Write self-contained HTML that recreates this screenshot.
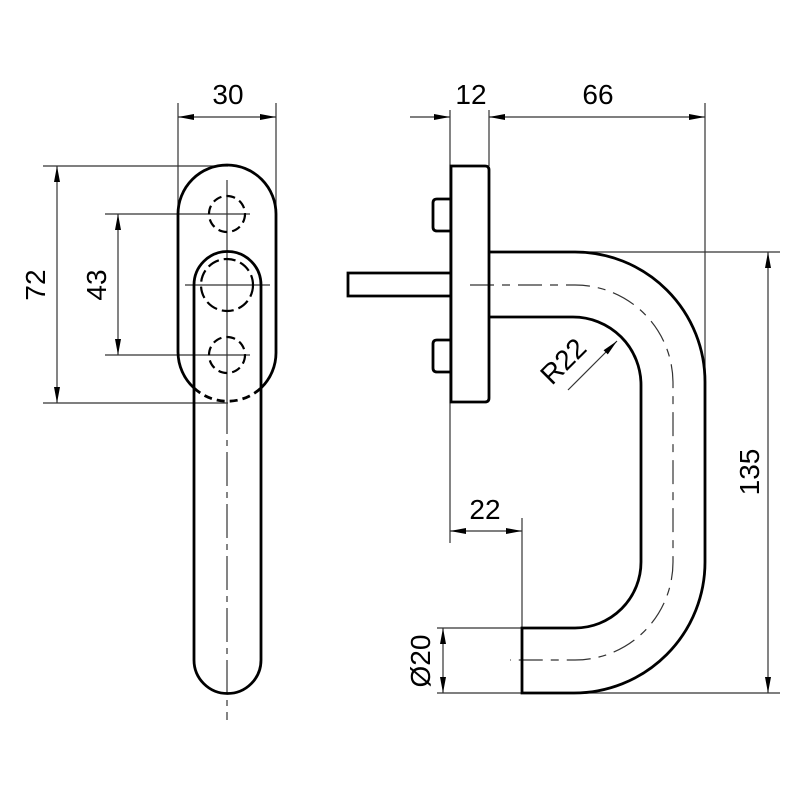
<!DOCTYPE html>
<html><head><meta charset="utf-8"><style>
html,body{margin:0;padding:0;background:#fff;width:800px;height:800px;overflow:hidden}
text{font-family:"Liberation Sans",Arial,sans-serif;font-size:28px;fill:#000}
</style></head><body>
<svg width="800" height="800" viewBox="0 0 800 800" xmlns="http://www.w3.org/2000/svg">
<defs>
<marker id="a" viewBox="0 0 16 6" refX="16" refY="3" markerWidth="16" markerHeight="6" markerUnits="userSpaceOnUse" orient="auto-start-reverse"><path d="M0,0L16,3L0,6z" fill="#000"/></marker>
</defs>
<g fill="none" stroke="#000">
<g stroke-width="1.2" stroke="#333">
<line x1="178" y1="103" x2="178" y2="230"/>
<line x1="276" y1="103" x2="276" y2="230"/>
<line x1="178" y1="117" x2="276" y2="117" marker-start="url(#a)" marker-end="url(#a)"/>
<line x1="43" y1="166" x2="228" y2="166"/>
<line x1="43" y1="403" x2="228" y2="403"/>
<line x1="57" y1="166" x2="57" y2="403" marker-start="url(#a)" marker-end="url(#a)"/>
<line x1="105" y1="214" x2="250" y2="214"/>
<line x1="105" y1="355" x2="250" y2="355"/>
<line x1="118" y1="214" x2="118" y2="355" marker-start="url(#a)" marker-end="url(#a)"/>
<line x1="185" y1="285" x2="270" y2="285"/>
<line x1="227" y1="180" x2="227" y2="400"/>
<line x1="227" y1="400" x2="227" y2="720" stroke-dasharray="34,6,6,6"/>
</g>
<g stroke-width="2.8">
<path d="M194,388 A49,49 0 0 1 178,352 L178,214 A49,49 0 0 1 276,214 L276,352 A49,49 0 0 1 261,388"/>
<path d="M194,388 A49,49 0 0 0 261,388" stroke-dasharray="8,5"/>
<path d="M194,660 L194,285 A33.5,33.5 0 0 1 261,285 L261,660 A33.5,33.5 0 0 1 194,660"/>
<circle cx="227" cy="214" r="18" stroke-width="2.2" stroke-dasharray="9,5"/>
<circle cx="227" cy="355" r="18" stroke-width="2.2" stroke-dasharray="9,5"/>
<circle cx="227" cy="285" r="26" stroke-width="2.2" stroke-dasharray="12,5"/>
</g>
<g stroke-width="1.2" stroke="#333">
<line x1="450" y1="110" x2="450" y2="543"/>
<line x1="489" y1="110" x2="489" y2="166"/>
<line x1="705" y1="103" x2="705" y2="385"/>
<line x1="410" y1="117" x2="450" y2="117" marker-end="url(#a)"/>
<line x1="489" y1="117" x2="705" y2="117" marker-start="url(#a)" marker-end="url(#a)"/>
<line x1="575" y1="252" x2="780" y2="252"/>
<line x1="575" y1="693" x2="780" y2="693"/>
<line x1="768" y1="252" x2="768" y2="693" marker-start="url(#a)" marker-end="url(#a)"/>
<line x1="522" y1="518" x2="522" y2="628"/>
<line x1="450" y1="531" x2="522" y2="531" marker-start="url(#a)" marker-end="url(#a)"/>
<line x1="437" y1="628" x2="522" y2="628"/>
<line x1="437" y1="693" x2="522" y2="693"/>
<line x1="443" y1="628" x2="443" y2="693" marker-start="url(#a)" marker-end="url(#a)"/>
<line x1="568" y1="390" x2="617" y2="341" marker-end="url(#a)"/>
<path d="M470,285 L575,285 A98,98 0 0 1 673,383 L673,562 A98,98 0 0 1 575,660 L510,660" stroke-dasharray="24,8,8,8"/>
</g>
<g stroke-width="2.8">
<path d="M451,166 L485,166 Q489,166 489,170 L489,398 Q489,402 485,402 L451,402 Z"/>
<path d="M451,199 L437,199 Q433,199 433,203 L433,227 Q433,231 437,231 L451,231"/>
<path d="M451,340 L437,340 Q433,340 433,344 L433,368 Q433,372 437,372 L451,372"/>
<path d="M451,273 L348,273 L348,296 L451,296"/>
<path d="M489,252 L575,252 A130,130 0 0 1 705,382 L705,562 A131,131 0 0 1 574,693 L522,693 L522,628 L575,628 A66,66 0 0 0 641,562 L641,385 A68,68 0 0 0 573,317 L489,317"/>
</g>
</g>
<text x="228" y="104" text-anchor="middle">30</text>
<text x="471" y="104" text-anchor="middle">12</text>
<text x="598" y="104" text-anchor="middle">66</text>
<text x="485" y="519" text-anchor="middle">22</text>
<text transform="translate(45,285) rotate(-90)" text-anchor="middle">72</text>
<text transform="translate(106,285) rotate(-90)" text-anchor="middle">43</text>
<text transform="translate(759,472) rotate(-90)" text-anchor="middle">135</text>
<text transform="translate(430,661) rotate(-90)" text-anchor="middle">Ø20</text>
<text transform="translate(570,368) rotate(-45)" text-anchor="middle">R22</text>
</svg>
</body></html>
